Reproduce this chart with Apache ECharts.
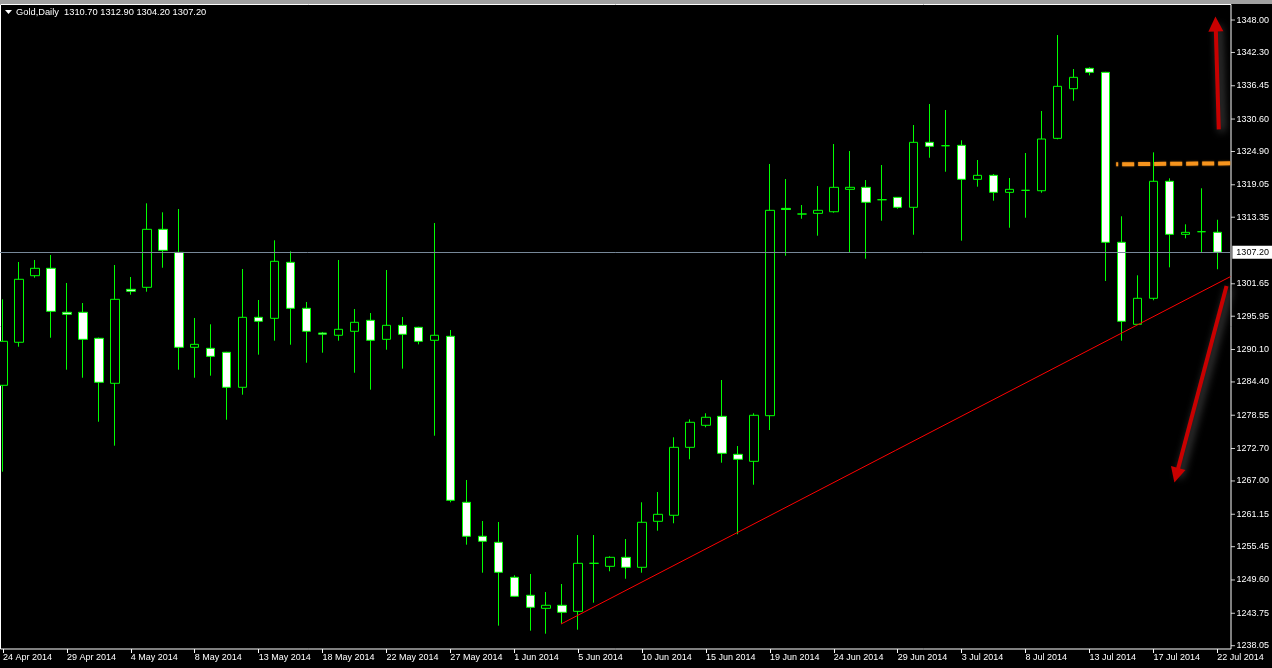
<!DOCTYPE html>
<html><head><meta charset="utf-8">
<script src="https://cdn.jsdelivr.net/npm/echarts@6/dist/echarts.min.js"></script>
<style>html,body{margin:0;padding:0;background:#000;}#c{width:1272px;height:668px;}</style>
</head><body><div id="c"></div>
<script>
const dates = ['24 Apr 2014','25 Apr 2014','27 Apr 2014','28 Apr 2014','29 Apr 2014','30 Apr 2014','1 May 2014','2 May 2014',
'4 May 2014','5 May 2014','6 May 2014','7 May 2014','8 May 2014','9 May 2014','11 May 2014','12 May 2014',
'13 May 2014','14 May 2014','15 May 2014','16 May 2014','18 May 2014','19 May 2014','20 May 2014','21 May 2014',
'22 May 2014','23 May 2014','25 May 2014','26 May 2014','27 May 2014','28 May 2014','29 May 2014','30 May 2014',
'1 Jun 2014','2 Jun 2014','3 Jun 2014','4 Jun 2014','5 Jun 2014','6 Jun 2014','8 Jun 2014','9 Jun 2014',
'10 Jun 2014','11 Jun 2014','12 Jun 2014','13 Jun 2014','15 Jun 2014','16 Jun 2014','17 Jun 2014','18 Jun 2014',
'19 Jun 2014','20 Jun 2014','22 Jun 2014','23 Jun 2014','24 Jun 2014','25 Jun 2014','26 Jun 2014','27 Jun 2014',
'29 Jun 2014','30 Jun 2014','1 Jul 2014','2 Jul 2014','3 Jul 2014','4 Jul 2014','6 Jul 2014','7 Jul 2014',
'8 Jul 2014','9 Jul 2014','10 Jul 2014','11 Jul 2014','13 Jul 2014','14 Jul 2014','15 Jul 2014','16 Jul 2014',
'17 Jul 2014','18 Jul 2014','20 Jul 2014','21 Jul 2014','22 Jul 2014'];

const open = [1283.81,1291.37,1303.07,1304.37,1296.64,1296.64,1292.07,1284.16,1300.68,1301.03,
1311.22,1307.18,1290.49,1290.31,1289.61,1283.46,1295.76,1295.58,1305.42,1297.34,
1293.00,1292.60,1293.30,1295.23,1291.89,1294.35,1294.00,1291.72,1292.42,1263.25,
1257.28,1256.22,1250.07,1246.91,1244.62,1245.15,1244.09,1252.53,1252.00,1253.58,
1251.83,1259.91,1260.97,1272.91,1276.78,1278.36,1271.68,1270.45,1278.47,1314.90,
1313.91,1314.03,1314.31,1318.25,1318.60,1316.42,1316.84,1315.09,1326.51,1325.91,
1325.98,1320.01,1320.71,1317.72,1318.07,1318.00,1327.21,1335.93,1339.51,1338.81,
1308.94,1294.53,1299.10,1319.66,1310.34,1310.80,1310.70];

const close = [1291.54,1302.44,1304.37,1296.81,1296.29,1291.89,1284.34,1298.92,1300.33,1311.22,
1307.53,1290.49,1291.01,1288.90,1283.46,1295.76,1295.06,1305.60,1297.34,1293.30,
1292.80,1293.65,1294.88,1291.72,1294.35,1292.77,1291.54,1292.60,1263.60,1257.28,
1256.40,1250.95,1246.73,1244.80,1245.15,1243.92,1252.53,1252.53,1253.58,1251.83,
1259.74,1261.14,1272.91,1277.31,1278.19,1271.86,1270.81,1278.54,1314.56,1314.70,
1313.91,1314.56,1318.60,1318.60,1315.97,1316.42,1315.09,1326.51,1325.81,1325.91,
1320.01,1320.71,1317.72,1318.25,1318.07,1327.09,1336.35,1337.93,1338.81,1308.94,
1295.06,1299.10,1319.66,1310.34,1310.69,1310.80,1307.20];

const low = [1268.63,1290.59,1302.72,1292.17,1286.55,1285.14,1277.41,1273.20,1299.73,1300.26,
1304.47,1286.55,1285.14,1285.50,1277.76,1282.16,1289.19,1291.65,1290.94,1287.78,
1289.54,1291.65,1286.02,1283.04,1290.06,1286.73,1291.01,1274.95,1263.25,1255.80,
1250.88,1241.57,1246.60,1240.69,1240.16,1241.92,1240.86,1245.61,1251.13,1249.82,
1250.88,1258.26,1259.56,1270.81,1276.43,1270.21,1257.63,1266.34,1275.95,1306.58,
1313.08,1310.10,1314.14,1307.18,1306.06,1312.73,1314.84,1310.27,1323.80,1321.34,
1309.22,1318.71,1316.25,1311.50,1313.26,1317.65,1327.04,1333.82,1338.28,1302.14,
1291.65,1294.40,1298.75,1304.54,1309.64,1307.18,1304.20];

const high = [1298.92,1305.48,1305.83,1306.71,1301.79,1298.27,1292.20,1304.95,1302.84,1315.79,
1314.21,1314.79,1295.64,1294.53,1289.70,1304.25,1298.80,1309.29,1307.36,1298.45,
1293.18,1305.83,1297.22,1296.51,1304.07,1295.81,1294.10,1312.33,1293.53,1267.17,
1259.96,1259.79,1250.42,1250.65,1247.49,1248.89,1257.50,1257.50,1253.76,1256.80,
1263.25,1265.06,1274.67,1277.83,1278.89,1284.74,1273.14,1278.89,1322.70,1320.06,
1315.49,1318.83,1326.21,1324.98,1319.88,1322.52,1316.90,1329.55,1333.24,1332.19,
1326.86,1323.40,1320.94,1320.24,1324.63,1332.01,1345.36,1339.39,1339.69,1338.90,
1313.51,1303.14,1324.75,1320.18,1312.10,1318.43,1312.90];

const yTickLabels = [1348.00,1342.30,1336.45,1330.60,1324.90,1319.05,1313.35,1301.65,1295.95,
1290.10,1284.40,1278.55,1272.70,1267.00,1261.15,1255.45,1249.60,1243.75,1238.05];

const currentPrice = 1307.20;
const trendLine = [[35, 1241.86], [76.85, 1302.90]];
const resistanceLine = [[69.71, 1322.65], [76.85, 1322.82]];
const arrowUp = [[76.125, 1328.79], [75.93, 1347.30]];
const arrowDown = [[76.61, 1301.26], [73.47, 1268.01]];
const priceLineSpan = [-0.08, 76.85];

const FONT = 'Liberation Sans';
const last = dates.length - 1;
const titleText = 'Gold,Daily  ' + [open[last], high[last], low[last], close[last]].map(v => v.toFixed(2)).join(' ');

const candleData = dates.map((d, i) => [open[i], close[i], low[i], high[i]]);
const every4 = (i) => i % 4 === 0;
const Y_MIN = 1237.47, Y_MAX = 1350.64;
const X1_MIN = -1.3 / 16, X1_MAX = (1231 - 1.3) / 16;
// y-axis tick marks, placed just right of the frame (2px into the 4px tick)
const tickMarks = yTickLabels.map(v => [X1_MAX + 2.5 / 16, v]);

const arrowStyle = {color: '#c80000', width: 4, type: 'solid', shadowBlur: 8, shadowColor: 'rgba(140,140,140,0.7)', shadowOffsetX: 3, shadowOffsetY: 2};

const chart = echarts.init(document.getElementById('c'), null, {renderer: 'canvas'});
chart.setOption({
  animation: false,
  backgroundColor: '#000',
  grid: [
    {left: 1.3, right: 54.7, top: 5, bottom: 19, containLabel: false},
    {left: 0, right: 41, top: 5, bottom: 19, containLabel: false}
  ],
  xAxis: [{
    type: 'category', data: dates, boundaryGap: false, gridIndex: 0,
    axisLine: {show: false},
    axisTick: {show: true, interval: every4, length: 4, lineStyle: {color: '#fff', width: 1}},
    axisLabel: {interval: every4, align: 'left', color: '#fff', fontSize: 9, fontFamily: FONT, margin: 4},
    splitLine: {show: false}
  }, {
    type: 'value', gridIndex: 1, min: X1_MIN, max: X1_MAX, show: false
  }],
  yAxis: [{
    type: 'value', gridIndex: 0, min: Y_MIN, max: Y_MAX, show: false, splitLine: {show: false}
  }, {
    type: 'value', gridIndex: 1, position: 'right', min: Y_MIN, max: Y_MAX,
    splitLine: {show: false}, axisLine: {show: false},
    axisTick: {show: false},
    axisLabel: {customValues: yTickLabels, formatter: v => v.toFixed(2), color: '#fff', fontSize: 9, fontFamily: FONT, margin: 6}
  }],
  series: [{
    type: 'candlestick', xAxisIndex: 0, yAxisIndex: 0, data: candleData, barWidth: 9,
    itemStyle: {color: '#000000', color0: '#ffffff', borderColor: '#00ff00', borderColor0: '#00ff00', borderColorDoji: '#00ff00', borderWidth: 1},
    silent: true
  }, {
    type: 'scatter', xAxisIndex: 1, yAxisIndex: 1, data: tickMarks, symbol: 'rect', symbolSize: [4, 1], clip: false, silent: true,
    itemStyle: {color: '#ffffff'}
  }, {
    type: 'line', xAxisIndex: 1, yAxisIndex: 1, data: trendLine, showSymbol: false, symbol: 'none', clip: false, silent: true,
    lineStyle: {color: '#ff0000', width: 1},
    z: 3,
    markLine: {
      silent: true, animation: false, precision: 2,
      data: [
        [{coord: [priceLineSpan[0], currentPrice], symbol: 'none',
          lineStyle: {color: '#778899', width: 1, type: 'solid'},
          label: {show: true, position: 'end', formatter: currentPrice.toFixed(2), backgroundColor: '#ffffff', color: '#000', fontSize: 9, fontFamily: FONT, padding: [2, 8, 2, 4], distance: 2}},
         {coord: [priceLineSpan[1], currentPrice], symbol: 'none'}],
        [{coord: resistanceLine[0], symbol: 'none',
          lineStyle: {color: '#f7941d', width: 4, type: [12, 4], dashOffset: 10, shadowBlur: 2, shadowColor: 'rgba(247,148,29,0.6)'},
          label: {show: false}},
         {coord: resistanceLine[1], symbol: 'none'}],
        [{coord: arrowUp[0], symbol: 'none', lineStyle: arrowStyle, label: {show: false}},
         {coord: arrowUp[1], symbol: 'triangle', symbolSize: 15}],
        [{coord: arrowDown[0], symbol: 'none', lineStyle: arrowStyle, label: {show: false}},
         {coord: arrowDown[1], symbol: 'triangle', symbolSize: 15}]
      ]
    }
  }],
  graphic: [
    {type: 'rect', shape: {x: 0, y: 0, width: 1272, height: 4}, style: {fill: '#a0a0a0'}, silent: true},
    {type: 'rect', shape: {x: 0.5, y: 4.5, width: 1230.5, height: 644.5}, style: {fill: 'none', stroke: '#ffffff', lineWidth: 1}, silent: true, z: 1},
    {type: 'polygon', shape: {points: [[5, 10], [12, 10], [8.5, 14]]}, style: {fill: '#ffffff'}, silent: true},
    {type: 'text', left: 16, top: 8, style: {text: titleText, fill: '#ffffff', font: '9.3px "' + FONT + '"'}, silent: true}
  ]
});
</script></body></html>
